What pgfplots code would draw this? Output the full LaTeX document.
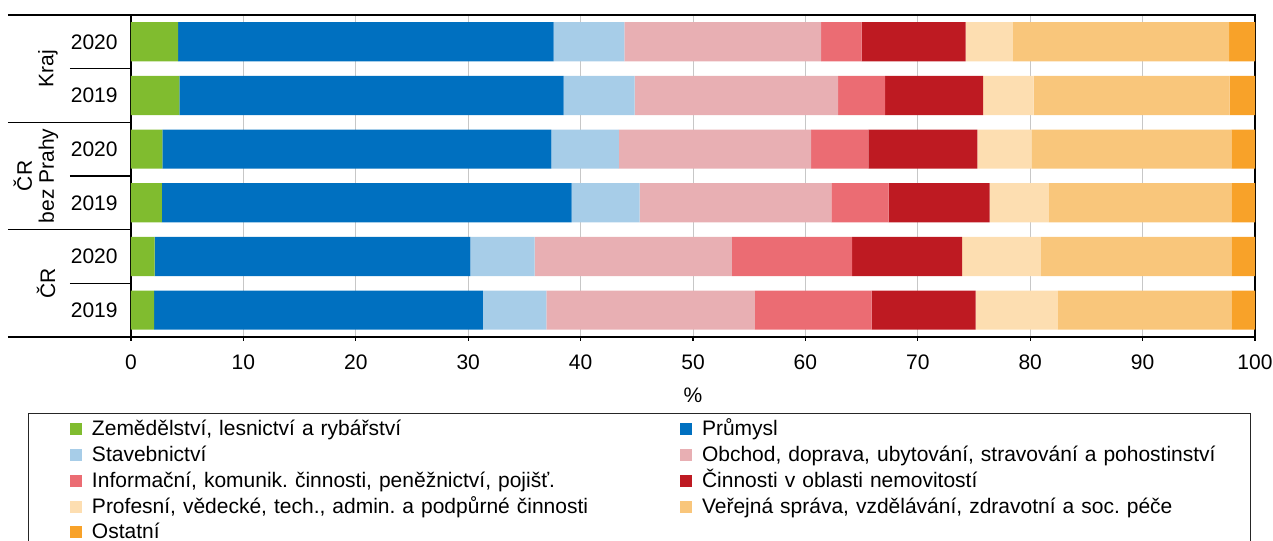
\documentclass[border=0pt]{standalone}
\usepackage{fontspec}
\setmainfont{Liberation Sans}
\usepackage{pgfplots}
\usepackage{pgfplotstable}
\pgfplotsset{compat=1.18}

\definecolor{czem}{HTML}{80BC2F}
\definecolor{cpru}{HTML}{0070C0}
\definecolor{csta}{HTML}{A7CDE8}
\definecolor{cobc}{HTML}{E8AFB3}
\definecolor{cinf}{HTML}{EB6C73}
\definecolor{cnem}{HTML}{BE1A22}
\definecolor{cpro}{HTML}{FDDEB1}
\definecolor{cver}{HTML}{F9C67B}
\definecolor{cost}{HTML}{F8A229}

% podily odvetvi v %, radky: Kraj 2020, Kraj 2019, CR bez Prahy 2020, 2019, CR 2020, 2019
\pgfplotstableread{
y s1   s2    s3   s4    s5   s6   s7   s8    s9
1 4.2  33.4  6.3  17.5  3.6  9.25 4.2  19.25 2.3
2 4.3  34.2  6.3  18.1  4.2  8.7  4.5  17.45 2.25
3 2.8  34.6  6.0  17.1  5.1  9.7  4.8  17.8  2.1
4 2.75 36.45 6.05 17.05 5.1  9.0  5.25 16.25 2.1
5 2.1  28.1  5.7  17.55 10.7 9.8  7.0  16.95 2.1
6 2.05 29.25 5.65 18.55 10.4 9.25 7.3  15.45 2.1
}\podil

\begin{document}
\frenchspacing
\fontsize{10.5}{12.5}\selectfont
\begin{tikzpicture}
\begin{axis}[
  name=ax,
  xbar stacked,
  scale only axis,
  width=562pt, height=161pt,
  xmin=0, xmax=100,
  ymin=0.5, ymax=6.5,
  y dir=reverse,
  bar width=0.73,
  xtick={0,10,...,100},
  ytick={1,...,6},
  yticklabels={2020,2019,2020,2019,2020,2019},
  xmajorgrids,
  grid style={color=black!22, line width=0.5pt},
  axis line style={black, line width=0.8pt},
  tick pos=left,
  tick align=outside,
  major tick length=2pt,
  xtick style={black, line width=0.6pt},
  ytick style={draw=none},
  /pgf/number format/assume math mode=true,
  x tick label style={yshift=-3pt},
  y tick label style={xshift=-1pt},
  xlabel={\%},
  x label style={at={(axis description cs:0.5,0)}, anchor=center, yshift=-29pt},
  legend columns=2,
  legend cell align=left,
  legend image code/.code={\fill[#1,draw=none] (0pt,-2.2pt) rectangle (6pt,3.8pt);},
  legend style={draw=none, fill=none, inner sep=0pt, outer sep=0pt,
    at={(axis description cs:0,0)}, anchor=north west,
    xshift=-30.5pt, yshift=-41pt,
    nodes={inner xsep=5pt, inner ysep=1pt, text width=265pt,
      text height=7.5pt, text depth=2.5pt, align=left},
    row sep=0.875pt,
    /tikz/every even column/.append style={column sep=24pt}},
]
\addplot[fill=czem, draw=none] table[x=s1, y=y] {\podil};
\addlegendentry{Zemědělství, lesnictví a rybářství}
\addplot[fill=cpru, draw=none] table[x=s2, y=y] {\podil};
\addlegendentry{Průmysl}
\addplot[fill=csta, draw=none] table[x=s3, y=y] {\podil};
\addlegendentry{Stavebnictví}
\addplot[fill=cobc, draw=none] table[x=s4, y=y] {\podil};
\addlegendentry{Obchod, doprava, ubytování, stravování a pohostinství}
\addplot[fill=cinf, draw=none] table[x=s5, y=y] {\podil};
\addlegendentry{Informační, komunik. činnosti, peněžnictví, pojišť.}
\addplot[fill=cnem, draw=none] table[x=s6, y=y] {\podil};
\addlegendentry{Činnosti v oblasti nemovitostí}
\addplot[fill=cpro, draw=none] table[x=s7, y=y] {\podil};
\addlegendentry{Profesní, vědecké, tech., admin. a podpůrné činnosti}
\addplot[fill=cver, draw=none] table[x=s8, y=y] {\podil};
\addlegendentry{Veřejná správa, vzdělávání, zdravotní a soc. péče}
\addplot[fill=cost, draw=none] table[x=s9, y=y] {\podil};
\addlegendentry{Ostatní}

\coordinate (g0) at (axis cs:0,0.5);
\coordinate (g1) at (axis cs:0,1.5);
\coordinate (g2) at (axis cs:0,2.5);
\coordinate (g3) at (axis cs:0,3.5);
\coordinate (g4) at (axis cs:0,4.5);
\coordinate (g5) at (axis cs:0,5.5);
\coordinate (g6) at (axis cs:0,6.5);
\end{axis}

% oddelovace skupin vlevo
\foreach \c in {g0,g2,g4,g6}
  \draw[black, line width=0.7pt] ([xshift=-61.5pt]\c) -- (\c);
\foreach \c in {g1,g3,g5}
  \draw[black, line width=0.7pt] ([xshift=-30.5pt]\c) -- (\c);

\node[rotate=90] at ([xshift=-41.5pt]g1) {Kraj};
\node[rotate=90, align=center, font=\fontsize{10.5}{11}\selectfont] at ([xshift=-47.5pt]g3) {ČR\\bez Prahy};
\node[rotate=90] at ([xshift=-42.5pt]g5) {ČR};

% ramecek legendy
\draw[black!85, line width=0.5pt] ([xshift=-51pt,yshift=-38.5pt]ax.south west)
  rectangle ([xshift=-2.5pt,yshift=-106pt]ax.south east);

\pgfresetboundingbox
\path ([xshift=-65.5pt,yshift=-102pt]ax.south west) rectangle ([xshift=9pt,yshift=7.5pt]ax.north east);
\end{tikzpicture}
\end{document}
